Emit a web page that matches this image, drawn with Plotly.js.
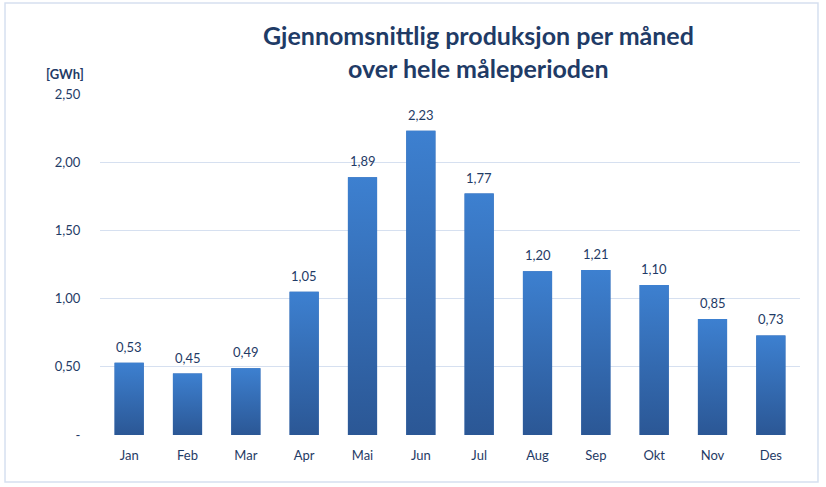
<!DOCTYPE html>
<html>
<head>
<meta charset="utf-8">
<script src="https://cdn.plot.ly/plotly-3.0.1.min.js"></script>
<style>
  html, body { margin: 0; padding: 0; background: #ffffff; }
  #chart { width: 826px; height: 487px; }
</style>
</head>
<body>
<div id="chart"></div>
<script>
// Monthly average production over the whole measurement period [GWh]
const months = ["Jan", "Feb", "Mar", "Apr", "Mai", "Jun", "Jul", "Aug", "Sep", "Okt", "Nov", "Des"];
const production = [0.53, 0.45, 0.49, 1.05, 1.89, 2.23, 1.77, 1.20, 1.21, 1.10, 0.85, 0.73];
const yTickVals = [0, 0.5, 1.0, 1.5, 2.0, 2.5];
const yTickText = ["-", "0,50", "1,00", "1,50", "2,00", "2,50"];

const navy = "#1F3B66";
const gridColor = "#D6E0F0";
const fontFamily = "Lato, 'Open Sans', sans-serif";
const halfWidth = 0.25;

const xIdx = months.map((_, i) => i);

// Base bars (solid) - each one gets a vertical gradient overlay below
const traces = [{
  type: "bar",
  x: xIdx,
  y: production,
  width: halfWidth * 2,
  marker: { color: "#3569B0", line: { width: 0 } },
  hoverinfo: "skip",
  showlegend: false
}];

// Gradient fill per bar: lighter at the top, darker at the base
production.forEach((v, i) => {
  traces.push({
    type: "scatter",
    mode: "lines",
    x: [i - halfWidth, i - halfWidth, i + halfWidth, i + halfWidth, i - halfWidth],
    y: [0, v, v, 0, 0],
    fill: "toself",
    line: { width: 0 },
    fillgradient: {
      type: "vertical",
      colorscale: [[0, "#2B5795"], [1, "#3D80D0"]]
    },
    hoverinfo: "skip",
    showlegend: false
  });
});

// Value labels above the bars
const valueLabels = production.map((v, i) => ({
  x: i,
  y: v,
  xref: "x",
  yref: "y",
  text: v.toFixed(2).replace(".", ","),
  showarrow: false,
  yanchor: "bottom",
  yshift: 6,
  font: { family: fontFamily, size: 13, color: navy }
}));

const titleLines = ["Gjennomsnittlig produksjon per måned", "over hele måleperioden"];

const layout = {
  width: 826,
  height: 487,
  margin: { l: 100, r: 26, t: 94, b: 52 },
  paper_bgcolor: "#ffffff",
  plot_bgcolor: "#ffffff",
  font: { family: fontFamily, color: navy },
  xaxis: {
    range: [-0.5, 11.5],
    tickvals: xIdx,
    ticktext: months,
    showgrid: false,
    zeroline: false,
    showline: false,
    ticks: "outside",
    ticklen: 8,
    tickcolor: "rgba(0,0,0,0)",
    tickfont: { family: fontFamily, size: 13, color: navy },
    fixedrange: true
  },
  yaxis: {
    range: [0, 2.5],
    tickvals: yTickVals,
    ticktext: yTickText,
    showgrid: true,
    gridcolor: gridColor,
    gridwidth: 1,
    zeroline: false,
    showline: false,
    ticks: "outside",
    ticklen: 16,
    tickcolor: "rgba(0,0,0,0)",
    tickfont: { family: fontFamily, size: 13, color: navy },
    fixedrange: true
  },
  annotations: valueLabels.concat([
    {
      // chart title, first line
      text: "<b>" + titleLines[0] + "</b>",
      xref: "paper", yref: "paper",
      x: 0.541, y: 1.174,
      xanchor: "center", yanchor: "middle",
      showarrow: false,
      font: { family: fontFamily, size: 25, color: navy }
    },
    {
      // chart title, second line
      text: "<b>" + titleLines[1] + "</b>",
      xref: "paper", yref: "paper",
      x: 0.541, y: 1.077,
      xanchor: "center", yanchor: "middle",
      showarrow: false,
      font: { family: fontFamily, size: 25, color: navy }
    },
    {
      text: "<b>[GWh]</b>",
      xref: "paper", yref: "paper",
      x: -0.02, y: 1.028,
      xanchor: "right", yanchor: "bottom",
      showarrow: false,
      font: { family: fontFamily, size: 13, color: navy }
    }
  ]),
  shapes: [{
    type: "rect",
    xref: "paper",
    yref: "paper",
    x0: -0.1357, x1: 1.0257,
    y0: -0.1378, y1: 1.2669,
    line: { color: "#D6E0F0", width: 1.5 },
    fillcolor: "rgba(0,0,0,0)",
    layer: "below"
  }]
};

Plotly.newPlot("chart", traces, layout, { staticPlot: true, displayModeBar: false });
</script>
</body>
</html>
